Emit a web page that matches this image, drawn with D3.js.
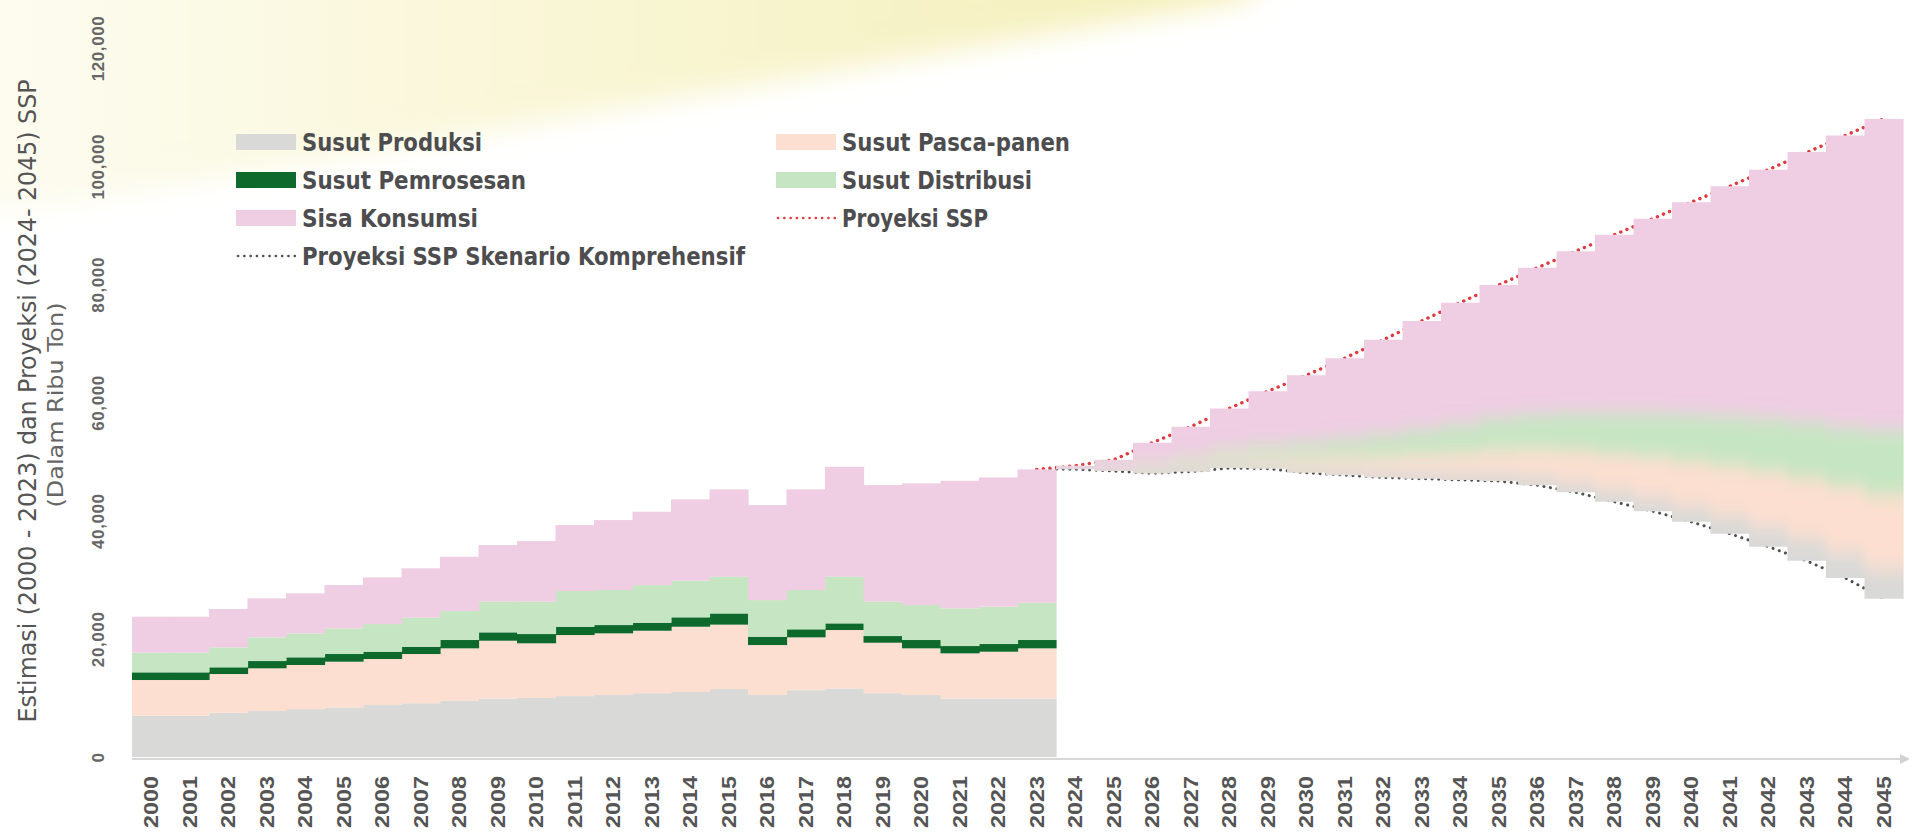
<!DOCTYPE html>
<html>
<head>
<meta charset="utf-8">
<script src="https://cdn.jsdelivr.net/npm/d3@7/dist/d3.min.js"></script>
<style>
  html, body { margin: 0; padding: 0; background: #fff; }
  svg { display: block; }
</style>
</head>
<body>
<svg id="chart" width="1921" height="834"></svg>
<script>
// Kategori tahun: 2000-2023 estimasi, 2024-2045 proyeksi
const years = ['2000','2001','2002','2003','2004','2005','2006','2007','2008','2009','2010','2011',
  '2012','2013','2014','2015','2016','2017','2018','2019','2020','2021','2022','2023',
  '2024','2025','2026','2027','2028','2029','2030','2031','2032','2033','2034','2035',
  '2036','2037','2038','2039','2040','2041','2042','2043','2044','2045'];

// Ribu ton
const dasarKomprehensif = [0,0,0,0,0,0,0,0,0,0,0,0,0,0,0,0,0,0,0,0,0,0,0,0,
  48700,48400,48000,48300,48900,48800,48100,47700,47300,47100,46900,46700,
  46000,44800,43200,41600,39800,37800,35600,33200,30300,26800];
const susutProduksi = [7000,7000,7500,7800,8100,8400,8800,9100,9500,9900,10000,10300,
  10500,10800,11000,11500,10500,11300,11600,10800,10500,9900,9900,9900,
  100,200,300,400,500,600,700,800,900,1000,1100,1300,1500,1700,2000,2300,2600,3000,3400,3800,4300,5000];
const susutPascaPanen = [6030,6030,6540,7210,7470,7730,7780,8330,8890,9780,9240,10340,
  10430,10570,11050,10900,8450,8950,9890,8540,7890,7640,7920,8490,
  100,300,600,900,1100,1400,1800,2200,2600,3000,3400,3900,4500,5300,6000,6800,7600,8400,9300,10200,11200,12500];
const susutPemrosesan = [1300,1300,1140,1230,1300,1300,1240,1230,1410,1420,1570,1410,
  1400,1350,1590,1900,1410,1360,1130,1130,1410,1240,1300,1410,
  0,0,0,0,0,0,0,0,0,0,0,0,0,0,0,0,0,0,0,0,0,0];
const susutDistribusi = [3320,3320,3380,4010,4060,4340,4680,4910,4900,5180,5470,6040,
  5930,6380,6190,6210,6200,6650,7890,5810,5920,6380,6320,6310,
  100,300,800,1200,1600,2100,2600,3100,3700,4300,4900,5500,6000,6500,7000,7500,8000,8500,9000,9500,10000,11000];
const sisaKonsumsi = [6090,6090,6480,6600,6770,7330,7900,8360,9190,9590,10270,11160,
  11840,12410,13770,14780,16080,17030,18610,19740,20590,21590,21880,22570,
  300,1100,3500,5100,6900,9000,11400,13700,16100,18400,20600,22500,
  24800,27300,30200,32900,35900,38900,42100,45700,49400,52700];

// Garis proyeksi (mulai dari 2023)
const lineYears = ['2023','2024','2025','2026','2027','2028','2029','2030','2031','2032','2033','2034',
  '2035','2036','2037','2038','2039','2040','2041','2042','2043','2044','2045'];
const proyeksiSSP = [48680,49300,50300,53200,55900,59000,61900,64600,67500,70600,73800,76900,
  79900,82800,85600,88400,91100,93900,96600,99400,102300,105200,108000];
const proyeksiKomprehensif = [48680,48700,48400,48000,48300,48900,48800,48100,47700,47300,47100,46900,
  46700,46000,44800,43200,41600,39800,37800,35600,33200,30300,26800];

const yTicks = [0, 20000, 40000, 60000, 80000, 100000, 120000];

const legendLabels = ['Susut Produksi', 'Susut Pemrosesan', 'Sisa Konsumsi',
  'Proyeksi SSP Skenario Komprehensif', 'Susut Pasca-panen', 'Susut Distribusi', 'Proyeksi SSP'];

// ---------------------------------------------------------------
const colors = {
  produksi  : '#d9d9d7',
  pascaPanen: '#fcdfd0',
  pemrosesan: '#0d6a2c',
  distribusi: '#c6e5c2',
  konsumsi  : '#efcde3',
  ssp       : '#e0393e',
  komp      : '#505050'
};
const font      = "'Liberation Sans Narrow','Arial Narrow','DejaVu Sans Condensed',sans-serif";
const firstProj = 24;

let svg  = d3.select('#chart'),
    defs = svg.append('defs');

let x = d3.scaleBand().domain(years).range([132, 1903]).padding(0),
    y = d3.scaleLinear().domain([0, 120000]).range([757, 48]);

let rows = years.map((yr, i) => ({
  year      : yr,
  dasar     : dasarKomprehensif[i],
  produksi  : susutProduksi[i],
  pascaPanen: susutPascaPanen[i],
  pemrosesan: susutPemrosesan[i],
  distribusi: susutDistribusi[i],
  konsumsi  : sisaKonsumsi[i]
}));
let keys   = ['dasar', 'produksi', 'pascaPanen', 'pemrosesan', 'distribusi', 'konsumsi'];
let series = d3.stack().keys(keys)(rows);

// Background yellow glow in the top left
let glow = defs.append('linearGradient').attr('id', 'glowGrad')
    .attr('gradientUnits', 'userSpaceOnUse').attr('x1', 0).attr('y1', 0).attr('x2', 1250).attr('y2', 0);
glow.append('stop').attr('offset', 0).attr('stop-color', '#fdfcf0');
glow.append('stop').attr('offset', 0.45).attr('stop-color', '#f9f6d6');
glow.append('stop').attr('offset', 1).attr('stop-color', '#f4efb8');
defs.append('filter').attr('id', 'glowBlur').attr('filterUnits', 'userSpaceOnUse')
    .attr('x', -100).attr('y', -100).attr('width', 1600).attr('height', 500)
    .append('feGaussianBlur').attr('stdDeviation', 14);
svg.append('path')
    .attr('d', 'M-60,-60 L1290,-60 L1245,0 L165,188 L0,214 L-60,214 Z')
    .attr('fill', 'url(#glowGrad)')
    .attr('filter', 'url(#glowBlur)');

// Dotted projection lines, drawn behind the bars
let line = d3.line()
    .x((d, i) => x(lineYears[i]) + x.bandwidth() / 2)
    .y(d => y(d));
svg.append('path').datum(proyeksiKomprehensif)
    .attr('d', line).attr('fill', 'none')
    .attr('stroke', colors.komp).attr('stroke-width', 3)
    .attr('stroke-dasharray', '0.1 6.5').attr('stroke-linecap', 'round');
svg.append('path').datum(proyeksiSSP)
    .attr('d', line).attr('fill', 'none')
    .attr('stroke', colors.ssp).attr('stroke-width', 3.4)
    .attr('stroke-dasharray', '0.1 6.5').attr('stroke-linecap', 'round');

// Historical stacked bars (sharp)
let hist = svg.append('g').attr('class', 'hist');
series.slice(1).forEach(s => {
  hist.selectAll(null)
      .data(s.slice(0, firstProj))
      .join('rect')
      .attr('x', d => x(d.data.year))
      .attr('width', x.bandwidth() + 0.6)
      .attr('y', d => y(d[1]))
      .attr('height', d => Math.max(0, y(d[0]) - y(d[1])))
      .attr('fill', colors[s.key]);
});

// Projected stacked bars, blended softly and clipped to the bar outline
let topLayer  = series[series.length - 1],
    baseLayer = series[0];
defs.append('clipPath').attr('id', 'projClip')
    .selectAll('rect')
    .data(d3.range(firstProj, years.length))
    .join('rect')
    .attr('x', i => x(years[i]))
    .attr('width', x.bandwidth() + 0.6)
    .attr('y', i => y(topLayer[i][1]))
    .attr('height', i => y(baseLayer[i][1]) - y(topLayer[i][1]));
defs.append('filter').attr('id', 'soft').attr('filterUnits', 'userSpaceOnUse')
    .attr('x', 0).attr('y', 0).attr('width', 1921).attr('height', 834)
    .append('feGaussianBlur').attr('stdDeviation', '4 9');

let proj = svg.append('g').attr('clip-path', 'url(#projClip)')
    .append('g').attr('filter', 'url(#soft)');
let nProj = years.length - firstProj;
series.slice(1).forEach((s, k, arr) => {
  proj.selectAll(null)
      .data(s.slice(firstProj))
      .join('rect')
      .attr('x', (d, i) => x(d.data.year) - (i === 0 ? 20 : 0))
      .attr('width', (d, i) => x.bandwidth() + 0.6 + (i === 0 || i === nProj - 1 ? 20 : 0))
      .attr('y', d => y(d[1]) - (k === arr.length - 1 ? 40 : 0))
      .attr('height', d => Math.max(0, y(d[0]) - y(d[1])) + (k === 0 ? 40 : 0) + (k === arr.length - 1 ? 40 : 0))
      .attr('fill', colors[s.key]);
});

// X axis with arrow
defs.append('marker').attr('id', 'arrow')
    .attr('viewBox', '0 0 10 10').attr('refX', 2).attr('refY', 5)
    .attr('markerWidth', 5).attr('markerHeight', 5).attr('orient', 'auto')
    .append('path').attr('d', 'M0,0 L10,5 L0,10 Z').attr('fill', '#d2d2d2');
svg.append('line')
    .attr('x1', 132).attr('x2', 1902).attr('y1', 759).attr('y2', 759)
    .attr('stroke', '#d6d6d6').attr('stroke-width', 2)
    .attr('marker-end', 'url(#arrow)');

let xAxis = svg.append('g')
    .attr('transform', 'translate(0,757)')
    .call(d3.axisBottom(x).tickSize(0));
xAxis.select('.domain').remove();
xAxis.selectAll('text')
    .attr('transform', 'translate(0,19) rotate(-90)')
    .attr('x', 0).attr('y', 0).attr('dy', '0.36em')
    .attr('text-anchor', 'end')
    .attr('font-family', "'Liberation Sans',Arial,sans-serif")
    .attr('font-weight', 'bold').attr('font-size', 20)
    .attr('textLength', 52).attr('lengthAdjust', 'spacingAndGlyphs')
    .attr('fill', '#555');

let yAxis = svg.append('g')
    .attr('transform', 'translate(98,0)')
    .call(d3.axisLeft(y).tickValues(yTicks).tickSize(0).tickFormat(d3.format(',')));
yAxis.select('.domain').remove();
yAxis.selectAll('.tick text')
    .attr('x', 0).attr('dy', '0.36em')
    .attr('transform', 'rotate(-90)')
    .attr('text-anchor', 'middle')
    .attr('font-family', "'Liberation Sans',Arial,sans-serif")
    .attr('font-weight', 'bold').attr('font-size', 17)
    .attr('letter-spacing', 0.6)
    .attr('fill', '#666');

// Y title
svg.append('text')
    .attr('transform', 'translate(27,401) rotate(-90)')
    .attr('text-anchor', 'middle').attr('dy', '0.36em')
    .attr('font-family', font).attr('font-size', 24)
    .attr('fill', '#555')
    .attr('textLength', 643).attr('lengthAdjust', 'spacingAndGlyphs')
    .text('Estimasi (2000 - 2023) dan Proyeksi (2024- 2045)  SSP');
svg.append('text')
    .attr('transform', 'translate(55,405) rotate(-90)')
    .attr('text-anchor', 'middle').attr('dy', '0.36em')
    .attr('font-family', font).attr('font-size', 22)
    .attr('fill', '#666')
    .attr('textLength', 205).attr('lengthAdjust', 'spacingAndGlyphs')
    .text('(Dalam Ribu Ton)');

// Legend
let legendLayout = [
  { col: 0, row: 0, kind: 'rect', color: colors.produksi,   width: 180 },
  { col: 0, row: 1, kind: 'rect', color: colors.pemrosesan, width: 224 },
  { col: 0, row: 2, kind: 'rect', color: colors.konsumsi,   width: 176 },
  { col: 0, row: 3, kind: 'line', color: colors.komp,       width: 443 },
  { col: 1, row: 0, kind: 'rect', color: colors.pascaPanen, width: 228 },
  { col: 1, row: 1, kind: 'rect', color: colors.distribusi, width: 190 },
  { col: 1, row: 2, kind: 'line', color: colors.ssp,        width: 146 }
];
let colX = [236, 776],
    rowY = [142, 180, 218, 256];
let legend = svg.append('g').attr('class', 'legend');
legendLabels.forEach((label, i) => {
  let it = legendLayout[i],
      g  = legend.append('g').attr('transform', 'translate(' + colX[it.col] + ',' + rowY[it.row] + ')');
  if (it.kind === 'rect') {
    g.append('rect').attr('x', 0).attr('y', -8).attr('width', 60).attr('height', 16).attr('fill', it.color);
  } else {
    g.append('line').attr('x1', 2).attr('x2', 60).attr('y1', 0).attr('y2', 0)
        .attr('stroke', it.color).attr('stroke-width', 2.6)
        .attr('stroke-dasharray', '0.1 6.2').attr('stroke-linecap', 'round');
  }
  g.append('text')
      .attr('x', 66).attr('dy', '0.36em')
      .attr('font-family', font).attr('font-weight', 'bold').attr('font-size', 25)
      .attr('fill', '#4d4d4f')
      .attr('textLength', it.width).attr('lengthAdjust', 'spacingAndGlyphs')
      .text(label);
});
</script>
</body>
</html>
